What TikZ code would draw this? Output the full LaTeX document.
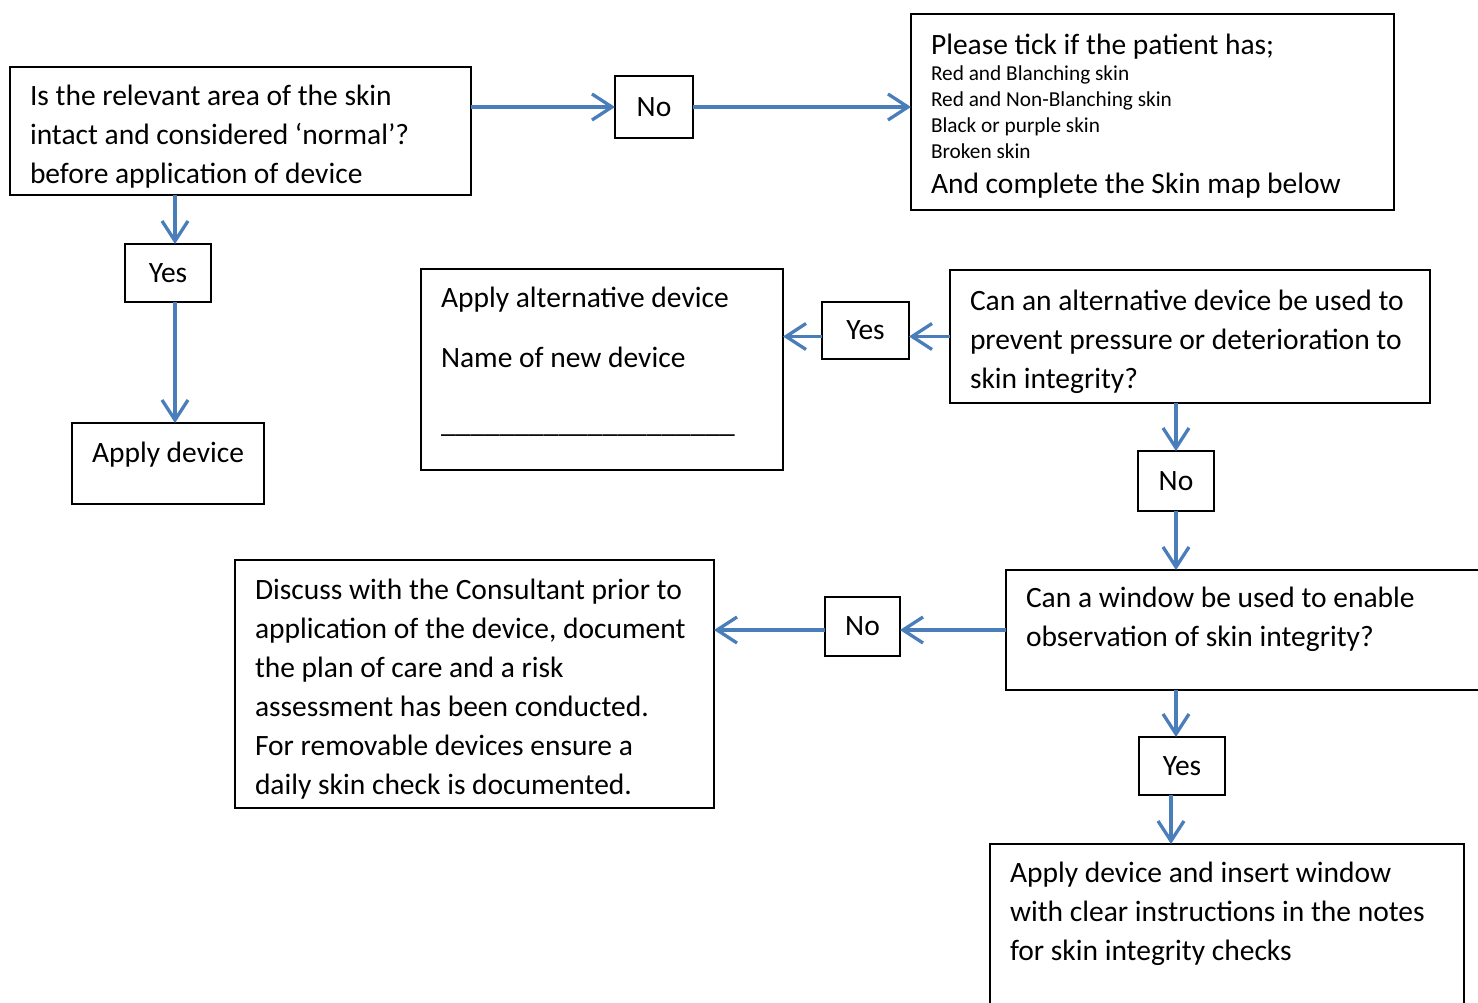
\documentclass[tikz,border=0pt]{standalone}
\usepackage{fontspec}
\setmainfont{Carlito}
\usetikzlibrary{calc,arrows.meta}
\definecolor{flowblue}{HTML}{4A7EBB}
\newcommand\mainsize{\fontsize{29.5}{39}\selectfont}
\newcommand\itemsize{\fontsize{21.3}{26}\selectfont}
\tikzset{
box/.style n args={3}{
  draw,
  line width=2pt,
  outer sep=0pt,
  anchor=north west,
  align=flush left,
  inner xsep=20pt,
  inner ysep=0pt,
  text width=#1,
  text height=#2,
  text depth=#3,
  font=\mainsize
  },
tagbox/.style={
  draw,
  line width=2pt,
  outer sep=0pt,
  inner sep=0pt,
  font=\mainsize
  },
link/.style={
  draw=flowblue,
  line width=3.3pt,
  -{Straight Barb[length=20pt,width=26pt]}
  }
}
\begin{document}
\begin{tikzpicture}[x=1pt,y=-1pt]
    \clip (0,0) rectangle (1478,1003);
    % left column
    \node[box={421pt}{39pt}{89pt}] (askskin) at (10,67)
        {Is the relevant area of the skin\\intact and considered ‘normal’?\\before application of device};
    \node[tagbox,minimum width=86pt,minimum height=58pt] (yesA) at (168,273) {Yes};
    \node[box={152pt}{39pt}{42pt}] (applydev) at (72,423) {Apply device};
    % top right
    \node[tagbox,minimum width=78pt,minimum height=62pt] (noA) at (654,107) {No};
    \node[box={443pt}{41pt}{155pt}] (tickbox) at (911,14)
        {Please tick if the patient has;\par
         {\itemsize Red and Blanching skin\par Red and Non-Blanching skin\par
          Black or purple skin\par Broken skin\par}
         {\fontsize{29.5}{35}\selectfont And complete the Skin map below\par}};
    % alternative device
    \node[box={440pt}{40pt}{93pt}] (askalt) at (950,270)
        {Can an alternative device be used to\\prevent pressure or deterioration to\\skin integrity?};
    \node[tagbox,minimum width=87pt,minimum height=57pt] (yesB) at (865.5,330.5) {Yes};
    \node[box={322pt}{38pt}{163pt},font=\fontsize{29.5}{60}\selectfont] (altbox) at (421,269)
        {Apply alternative device\\Name of new device\\[5pt]
         \_\_\_\_\_\_\_\_\_\_\_\_\_\_\_\_\_\_\_\_};
    \node[tagbox,minimum width=76pt,minimum height=60pt] (noB) at (1176,481) {No};
    % window
    \node[box={460pt}{37pt}{83pt}] (askwin) at (1006,570)
        {Can a window be used to enable\\observation of skin integrity?};
    \node[tagbox,minimum width=75pt,minimum height=59pt] (noC) at (862.5,626.5) {No};
    \node[box={439pt}{39pt}{209pt}] (discuss) at (235,560)
        {Discuss with the Consultant prior to\\application of the device, document\\the plan of care and a risk\\
         assessment has been conducted.\\For removable devices ensure a\\daily skin check is documented.};
    \node[tagbox,minimum width=86pt,minimum height=58pt] (yesC) at (1182,766) {Yes};
    \node[box={434pt}{38pt}{142pt}] (winbox) at (990,844)
        {Apply device and insert window\\with clear instructions in the notes\\for skin integrity checks};
    % connectors
    \draw[link] (askskin.east |- noA) -- (noA.west);
    \draw[link] (noA.east) -- (noA.east -| tickbox.west);
    \draw[link] ($(askskin.south -| yesA)+(7,0)$) -- ($(yesA.north)+(7,0)$);
    \draw[link] ($(yesA.south)+(7,0)$) -- ($(applydev.north -| yesA)+(7,0)$);
    \draw[link] (askalt.west) -- (askalt.west -| yesB.east);
    \draw[link] (yesB.west |- askalt.west) -- (askalt.west -| altbox.east);
    \draw[link] (askalt.south -| noB) -- (noB.north);
    \draw[link] (noB.south) -- (askwin.north -| noB);
    \draw[link] (askwin.west) -- (askwin.west -| noC.east);
    \draw[link] (noC.west |- askwin.west) -- (askwin.west -| discuss.east);
    \draw[link] ($(askwin.south -| yesC)+(-6,0)$) -- ($(yesC.north)+(-6,0)$);
    \draw[link] ($(yesC.south)+(-11,0)$) -- ($(winbox.north -| yesC)+(-11,0)$);
\end{tikzpicture}
\end{document}
